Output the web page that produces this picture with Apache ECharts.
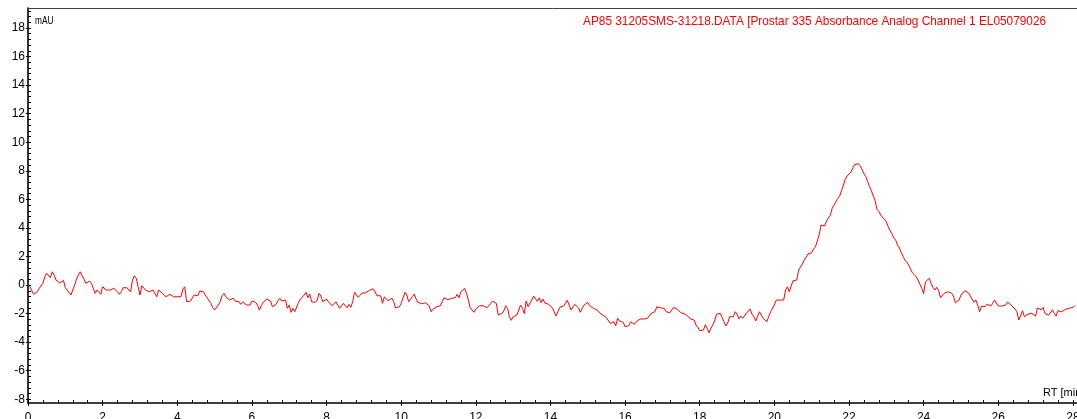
<!DOCTYPE html>
<html><head><meta charset="utf-8">
<script src="https://cdn.jsdelivr.net/npm/echarts@6/dist/echarts.min.js"></script>
<style>html,body{margin:0;padding:0;background:#fff;overflow:hidden}#c{width:1077px;height:419px}</style>
</head><body><div id="c"></div>
<script>
// Retention time sampling of the trace (minutes)
const rtStart = 0;
const rtStep = 0.05;

// Absorbance (mAU), one row per minute (20 samples)
const abs00to05 = [
  0.05,-0.12,-0.23,-0.65,-0.77,-0.47,-0.23,-0.09,0.12,0.58,0.82,0.70,0.51,0.93,0.70,0.35,0.23,0.14,0.23,0.33,
  -0.19,-0.35,-0.47,-0.70,-0.35,0.00,0.42,0.70,0.93,0.65,0.42,0.12,0.23,0.28,0.12,-0.23,-0.58,-0.35,-0.47,-0.65,
  -0.12,-0.05,-0.35,-0.42,-0.35,-0.28,-0.23,-0.12,-0.47,-0.65,-0.47,-0.19,-0.19,-0.19,-0.23,-0.47,0.35,0.65,0.47,-0.12,
  -0.70,-0.05,-0.12,-0.35,-0.35,-0.47,-0.35,-0.35,-0.58,-0.82,-0.35,-0.42,-0.58,-0.70,-0.82,-0.77,-0.65,-0.65,-0.82,-0.82,
  -0.82,-0.89,-0.82,-0.28,-0.12,-1.17,-1.28,-1.12,-1.05,-0.70,-0.82,-0.75,-0.42,-0.28,-0.47,-0.70,-0.89,-0.93,-1.28,-1.59
];
const abs05to10 = [
  -1.75,-1.68,-1.40,-1.17,-0.75,-0.58,-0.82,-0.89,-1.05,-1.05,-0.93,-1.12,-0.98,-1.17,-1.35,-1.17,-1.28,-1.40,-1.52,-1.40,
  -1.12,-1.17,-1.21,-1.40,-1.75,-1.45,-1.21,-1.28,-0.98,-0.84,-1.12,-1.52,-1.63,-1.35,-1.10,-0.93,-1.12,-1.05,-1.05,-1.63,
  -1.40,-1.91,-1.63,-1.87,-1.87,-1.21,-0.98,-0.93,-0.70,-0.51,-0.89,-0.63,-1.17,-1.28,-1.21,-1.05,-0.58,-0.77,-1.17,-1.12,
  -0.98,-1.17,-1.28,-1.45,-1.52,-1.17,-1.05,-1.63,-1.59,-1.28,-1.28,-1.59,-1.35,-1.56,-1.17,-0.51,-0.42,-0.86,-0.89,-0.56,
  -0.42,-0.54,-0.51,-0.37,-0.42,-0.26,-0.47,-0.75,-0.75,-0.75,-1.28,-0.82,-0.89,-1.10,-1.05,-0.93,-1.17,-1.61,-1.75,-1.52
];
const abs10to15 = [
  -1.28,-0.89,-0.51,-0.70,-1.17,-1.10,-0.82,-0.63,-0.98,-1.21,-1.35,-1.31,-1.28,-1.24,-1.12,-1.45,-1.87,-1.70,-1.59,-1.52,
  -1.52,-1.45,-1.17,-0.89,-0.82,-1.03,-1.05,-0.93,-0.93,-0.89,-0.65,-0.89,-0.47,-0.33,-0.23,-0.58,-1.05,-1.59,-1.63,-1.91,
  -1.68,-1.63,-1.45,-1.47,-1.45,-1.47,-1.59,-1.63,-1.28,-1.12,-1.05,-1.28,-2.10,-2.03,-1.98,-1.82,-1.45,-1.63,-2.22,-2.47,
  -2.22,-2.29,-2.10,-1.96,-1.40,-1.63,-2.00,-1.12,-1.52,-1.42,-1.05,-0.77,-0.65,-1.14,-0.89,-1.24,-0.98,-1.26,-1.17,-1.35,
  -1.21,-1.59,-1.59,-2.17,-1.87,-1.56,-1.52,-1.47,-1.35,-1.07,-1.40,-1.75,-1.82,-1.35,-1.35,-1.59,-1.91,-1.63,-1.40,-1.28
];
const abs15to20 = [
  -1.21,-1.45,-1.59,-1.63,-1.68,-1.75,-1.91,-1.87,-2.10,-2.05,-2.29,-2.33,-2.68,-2.57,-2.57,-2.85,-2.33,-2.52,-2.57,-2.61,
  -2.92,-2.80,-2.85,-2.57,-2.68,-2.75,-2.57,-2.45,-2.38,-2.29,-2.38,-2.52,-2.33,-2.22,-1.98,-2.05,-1.87,-1.52,-1.52,-1.60,
  -1.47,-1.63,-1.87,-1.80,-1.94,-1.75,-1.56,-1.52,-1.70,-1.63,-1.94,-1.80,-2.03,-1.94,-2.22,-2.38,-2.50,-2.45,-2.80,-2.96,
  -3.20,-3.10,-3.15,-2.78,-3.03,-3.34,-3.03,-2.78,-2.50,-2.05,-2.03,-1.98,-2.03,-2.57,-2.87,-2.66,-2.22,-2.17,-2.22,-1.87,
  -2.03,-2.36,-2.17,-2.33,-2.22,-1.98,-1.94,-1.68,-2.03,-2.22,-2.52,-2.45,-1.87,-1.82,-2.33,-2.45,-2.57,-2.19,-1.87,-1.75
];
const abs20to25 = [
  -1.40,-1.05,-1.05,-1.05,-1.17,-1.05,-0.35,-0.12,-0.47,-0.07,0.30,0.16,0.35,1.05,1.17,1.47,1.75,1.87,2.17,2.29,
  2.26,2.52,2.68,3.08,3.50,4.20,4.32,4.15,4.51,4.51,4.90,5.37,5.60,5.84,6.07,6.23,6.61,7.00,7.40,7.63,
  7.70,7.91,8.05,8.43,8.55,8.50,8.35,8.10,7.80,7.60,7.25,6.90,6.60,6.25,5.90,5.30,5.15,4.90,4.80,4.60,
  4.43,4.10,3.80,3.60,3.30,3.15,2.80,2.60,2.30,2.00,1.75,1.60,1.40,1.45,0.85,0.91,0.60,0.35,0.35,-0.23,
  -0.60,0.23,0.35,0.47,0.12,-0.16,-0.35,-0.16,-0.35,-0.89,-0.77,-0.58,-0.47,-0.47,-0.58,-0.58,-0.77,-1.24,-1.17,-1.05
];
const abs25to28 = [
  -0.70,-0.58,-0.40,-0.37,-0.54,-0.77,-0.82,-1.21,-1.05,-1.40,-1.87,-1.47,-1.56,-1.52,-1.33,-1.47,-1.47,-1.28,-1.05,-1.19,
  -1.47,-1.47,-1.47,-1.52,-1.40,-1.19,-1.05,-1.42,-1.56,-1.68,-1.87,-2.45,-2.33,-1.80,-2.22,-2.31,-2.03,-1.98,-1.98,-2.03,
  -2.17,-1.61,-1.63,-1.73,-1.56,-1.98,-1.94,-2.12,-2.17,-1.73,-1.98,-2.17,-1.80,-1.94,-1.87,-1.75,-1.70,-1.70,-1.63,-1.52,
  -1.56,-1.45
];

const absorbance = abs00to05.concat(abs05to10, abs10to15, abs15to20, abs20to25, abs25to28);

const xTickLabels = [0,2,4,6,8,10,12,14,16,18,20,22,24,26,28];
const yTickLabels = [-8,-6,-4,-2,0,2,4,6,8,10,12,14,16,18];

const traceName = 'AP85 31205SMS-31218.DATA [Prostar 335 Absorbance Analog Channel 1 EL05079026';
const yUnit = 'mAU';
const xUnit = 'RT [min]';

const X_MIN = 0, X_MAX = 28.11, Y_MIN = -8.26, Y_MAX = 19.4;

const seriesData = absorbance.map((v, i) => [+(rtStart + i * rtStep).toFixed(2), v]);

const xMinor = [];
for (let k = 0; k <= 70; k++) xMinor.push(+(k * 0.4).toFixed(2));
const yMinor = [];
for (let k = -20; k <= 48; k++) yMinor.push(+(k * 0.4).toFixed(2));

const font = 'Arial, "Liberation Sans", sans-serif';
const gridBox = {left: 28, right: 0, top: 8, bottom: 16, outerBoundsMode: 'none', containLabel: false};

const chart = echarts.init(document.getElementById('c'), null, {renderer: 'canvas'});
chart.setOption({
  animation: false,
  backgroundColor: '#fff',
  grid: [Object.assign({}, gridBox), Object.assign({}, gridBox)],
  xAxis: [
    {
      gridIndex: 0, type: 'value', min: X_MIN, max: X_MAX, position: 'bottom',
      axisLine: {show: true, onZero: false, lineStyle: {color: '#000', width: 1.6}},
      axisTick: {show: true, length: 3, customValues: xTickLabels, lineStyle: {color: '#000', width: 1}},
      axisLabel: {show: true, customValues: xTickLabels, color: '#000', fontSize: 12, fontFamily: font, margin: 9,
                  hideOverlap: false},
      splitLine: {show: false}
    },
    {
      gridIndex: 1, type: 'value', min: X_MIN, max: X_MAX, position: 'bottom',
      axisLine: {show: false, onZero: false},
      axisTick: {show: true, inside: true, length: 3, customValues: xMinor, lineStyle: {color: '#000', width: 1}},
      axisLabel: {show: false}, splitLine: {show: false}
    },
    {
      gridIndex: 1, type: 'value', min: X_MIN, max: X_MAX, position: 'top',
      axisLine: {show: true, onZero: false, lineStyle: {color: '#444', width: 1}},
      axisTick: {show: false}, axisLabel: {show: false}, splitLine: {show: false}
    }
  ],
  yAxis: [
    {
      gridIndex: 0, type: 'value', min: Y_MIN, max: Y_MAX, position: 'left',
      axisLine: {show: true, onZero: false, lineStyle: {color: '#000', width: 1.6}},
      axisTick: {show: true, length: 2, customValues: yTickLabels, lineStyle: {color: '#000', width: 1}},
      axisLabel: {show: true, customValues: yTickLabels, color: '#000', fontSize: 12, fontFamily: font, margin: 3},
      splitLine: {show: false}
    },
    {
      gridIndex: 1, type: 'value', min: Y_MIN, max: Y_MAX, position: 'left',
      axisLine: {show: false, onZero: false},
      axisTick: {show: true, inside: true, length: 3, customValues: yMinor, lineStyle: {color: '#000', width: 1}},
      axisLabel: {show: false}, splitLine: {show: false}
    }
  ],
  graphic: [
    {type: 'text', x: 35, y: 15, scaleX: 0.72, style: {text: yUnit, fill: '#000', font: '11.5px ' + font}},
    {type: 'text', left: 1043, top: 387, style: {text: xUnit, fill: '#000', font: '11px ' + font}},
    {type: 'text', left: 583, top: 16, style: {text: traceName, fill: '#ff0000', font: '11.85px ' + font}}
  ],
  series: [{
    type: 'line', xAxisIndex: 0, yAxisIndex: 0, data: seriesData,
    showSymbol: false, symbol: 'none', sampling: null,
    lineStyle: {color: '#ff0000', width: 1}, clip: true
  }]
});
</script></body></html>
